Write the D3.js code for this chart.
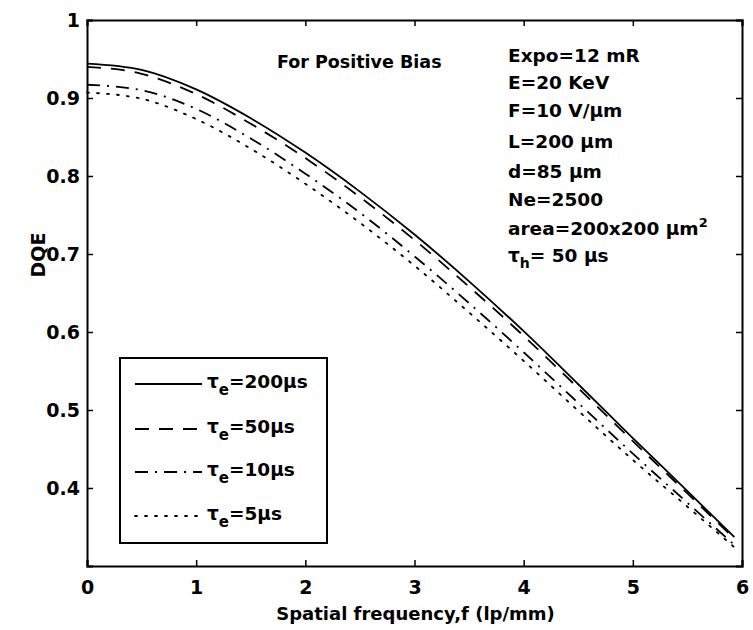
<!DOCTYPE html>
<html>
<head>
<meta charset="utf-8">
<script src="https://cdn.jsdelivr.net/npm/d3@7"></script>
<style>
  html, body { margin: 0; padding: 0; background: #fff; }
  svg { display: block; }
  text { font-family: "DejaVu Sans", "Liberation Sans", Arial, sans-serif; font-weight: bold; fill: #000; }
</style>
</head>
<body>
<svg id="chart" width="753" height="630"></svg>
<script>
// ---- data ----
const freq = [0, 0.5, 1, 1.5, 2, 2.5, 3, 3.5, 4, 4.5, 5, 5.5, 5.93];
const dqe200 = [0.944, 0.936, 0.911, 0.874, 0.830, 0.780, 0.725, 0.665, 0.601, 0.533, 0.464, 0.396, 0.337];
const dqe50  = [0.940, 0.931, 0.905, 0.867, 0.823, 0.773, 0.718, 0.658, 0.595, 0.528, 0.460, 0.393, 0.335];
const dqe10  = [0.917, 0.910, 0.886, 0.848, 0.803, 0.753, 0.697, 0.637, 0.574, 0.509, 0.444, 0.381, 0.327];
const dqe5   = [0.907, 0.899, 0.873, 0.835, 0.790, 0.740, 0.685, 0.625, 0.563, 0.499, 0.436, 0.376, 0.324];
const seriesLabels = ["200μs", "50μs", "10μs", "5μs"];
const xTicks = [0, 1, 2, 3, 4, 5, 6];
const yTicks = [0.4, 0.5, 0.6, 0.7, 0.8, 0.9, 1];
const xTitle = "Spatial frequency,f (lp/mm)";
const yTitle = "DQE";
const noteTitle = "For Positive Bias";
const params = ["Expo=12 mR", "E=20 KeV", "F=10 V/μm", "L=200 μm", "d=85 μm", "Ne=2500"];

const series = [
  { label: seriesLabels[0], values: dqe200, dash: null },
  { label: seriesLabels[1], values: dqe50,  dash: "14,10" },
  { label: seriesLabels[2], values: dqe10,  dash: "13,7,2,7" },
  { label: seriesLabels[3], values: dqe5,   dash: "2,8" }
];

// ---- layout ----
const L = 87, R = 742, T = 20, B = 566;
const svg = d3.select("#chart");
const x = d3.scaleLinear().domain([0, 6]).range([L, R]);
const y = d3.scaleLinear().domain([0.3, 1]).range([B, T]);

// curves
const line = d3.line().x(d => x(d[0])).y(d => y(d[1])).curve(d3.curveMonotoneX);
series.forEach(s => {
  const pts = freq.map((f, i) => [f, s.values[i]]);
  svg.append("path")
    .attr("d", line(pts))
    .attr("fill", "none")
    .attr("stroke", "#000")
    .attr("stroke-width", 1.8)
    .attr("stroke-dasharray", s.dash)
    .attr("stroke-linecap", s.dash === "2,8" ? "round" : "butt");
});

// axes (box with inward ticks on all sides)
const tick = 6;
const axB = svg.append("g").attr("transform", `translate(0,${B})`)
  .call(d3.axisBottom(x).tickValues(xTicks).tickSize(-tick).tickPadding(15).tickFormat(d3.format("d")));
const axT = svg.append("g").attr("transform", `translate(0,${T})`)
  .call(d3.axisTop(x).tickValues(xTicks).tickSize(-tick).tickFormat(""));
const axL = svg.append("g").attr("transform", `translate(${L},0)`)
  .call(d3.axisLeft(y).tickValues(yTicks).tickSize(-tick).tickPadding(7).tickFormat(d => d === 1 ? "1" : d3.format(".1f")(d)));
const axR = svg.append("g").attr("transform", `translate(${R},0)`)
  .call(d3.axisRight(y).tickValues(yTicks).tickSize(-tick).tickFormat(""));
[axB, axT, axL, axR].forEach(g => {
  g.select(".domain").attr("stroke", "#000").attr("stroke-width", 2);
  g.selectAll(".tick line").attr("stroke", "#000").attr("stroke-width", 1.5);
  g.selectAll(".tick text").style("font-size", "19px").style("font-family", "'DejaVu Sans', sans-serif").style("font-weight", "bold").attr("fill", "#000");
});

// axis titles
svg.append("text").attr("x", (L + R) / 2 + 1).attr("y", 620)
  .attr("text-anchor", "middle").style("font-size", "18px").text(xTitle);
svg.append("text").attr("transform", "translate(45,255) rotate(-90)")
  .attr("text-anchor", "middle").style("font-size", "19px").text(yTitle);

// annotations
svg.append("text").attr("x", 277).attr("y", 68).style("font-size", "17.5px").text(noteTitle);
const baselines = [62, 89, 117, 148, 178, 206];
params.forEach((p, i) => {
  svg.append("text").attr("x", 508).attr("y", baselines[i]).style("font-size", "18.5px").text(p);
});
const area = svg.append("text").attr("x", 508).attr("y", 235).style("font-size", "18.5px");
area.append("tspan").text("area=200x200 μm");
area.append("tspan").attr("dy", -8).style("font-size", "13px").text("2");
const tauh = svg.append("text").attr("x", 508).attr("y", 262).style("font-size", "18.5px");
tauh.append("tspan").text("τ");
tauh.append("tspan").attr("dy", 6).style("font-size", "14px").text("h");
tauh.append("tspan").attr("dy", -6).text("= 50 μs");

// legend
const lg = svg.append("g");
lg.append("rect").attr("x", 120).attr("y", 358).attr("width", 207).attr("height", 185)
  .attr("fill", "#fff").attr("stroke", "#000").attr("stroke-width", 2);
const rowY = [384, 429, 472, 516];
series.forEach((s, i) => {
  lg.append("line").attr("x1", 135).attr("x2", 202).attr("y1", rowY[i]).attr("y2", rowY[i])
    .attr("stroke", "#000").attr("stroke-width", 1.8)
    .attr("stroke-dasharray", s.dash)
    .attr("stroke-linecap", s.dash === "2,8" ? "round" : "butt");
  const t = lg.append("text").attr("x", 207).attr("y", rowY[i] + 4).style("font-size", "18.5px");
  t.append("tspan").text("τ");
  t.append("tspan").attr("dy", 7).style("font-size", "15px").text("e");
  t.append("tspan").attr("dy", -7).text("=" + s.label);
});
</script>
</body>
</html>
